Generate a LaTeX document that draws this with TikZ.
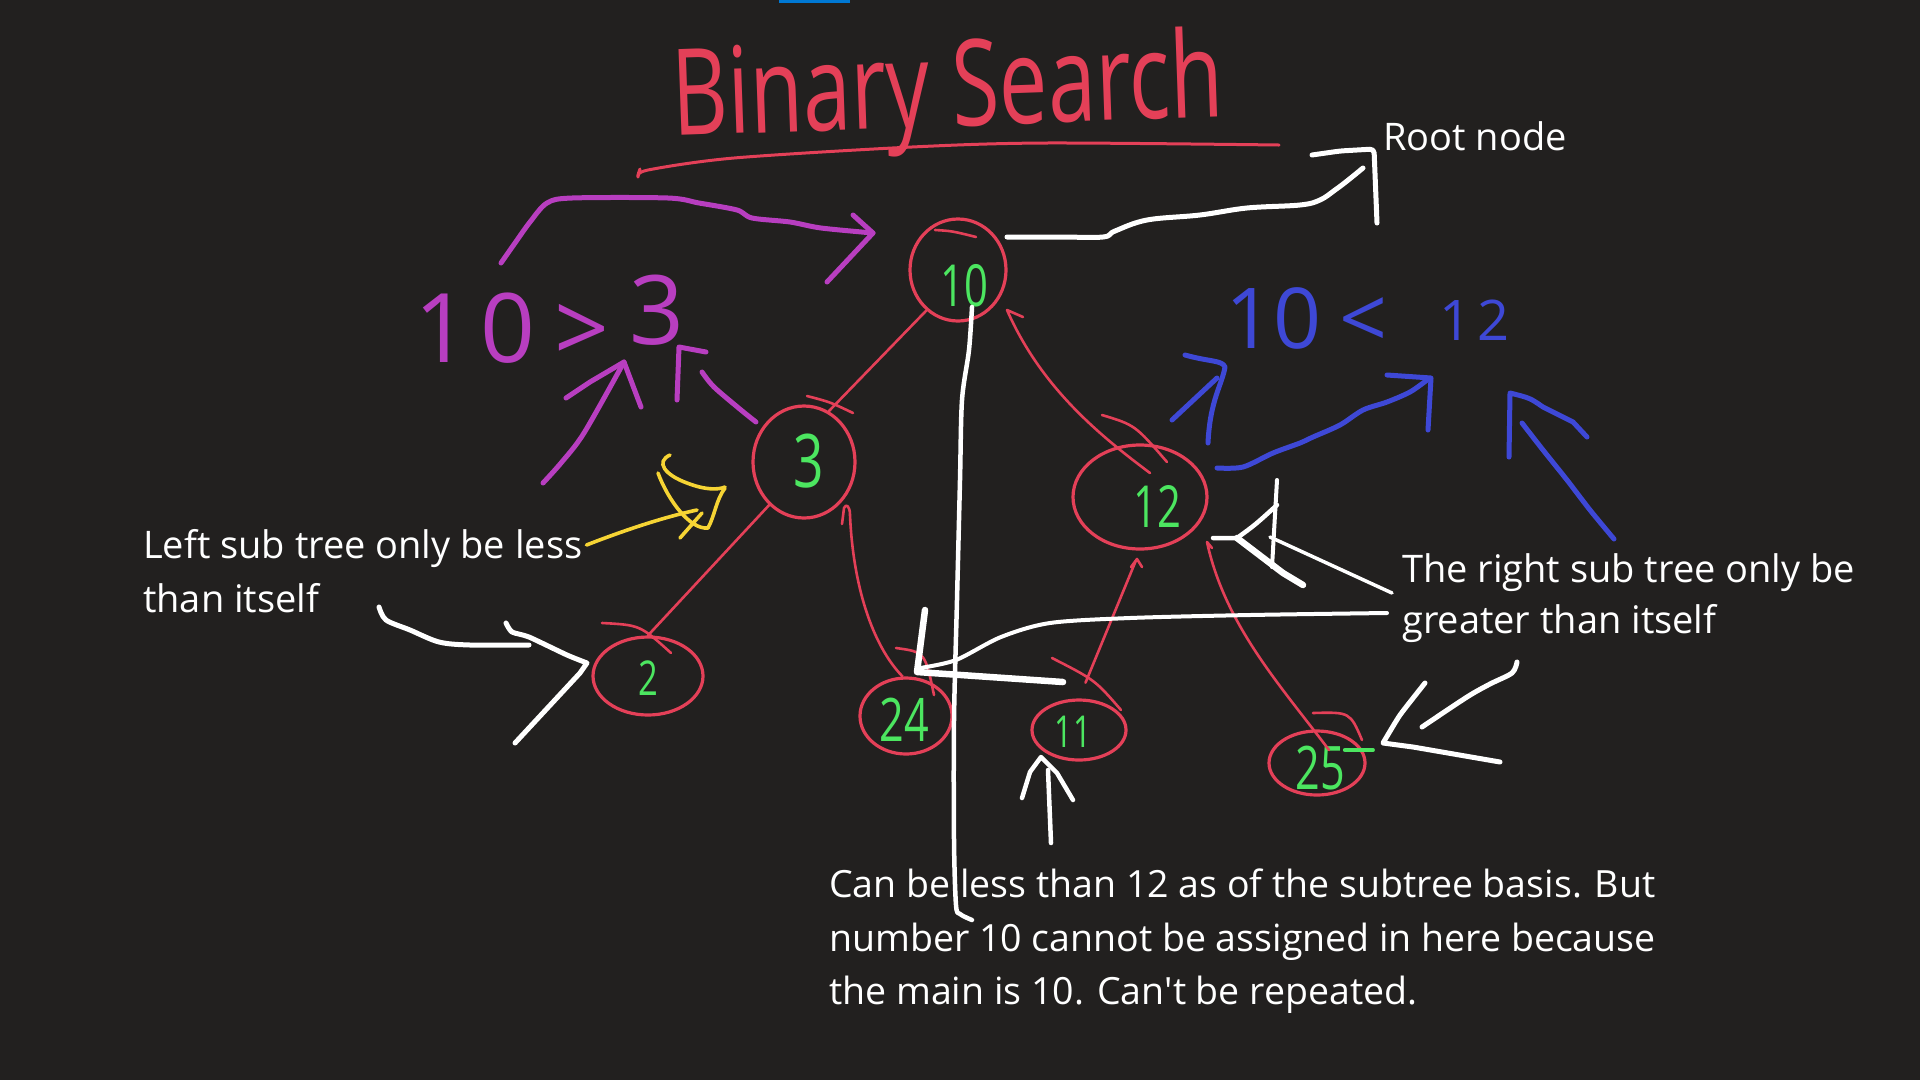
\documentclass[tikz,border=0pt]{standalone}
\usepackage{fontspec}
\setmainfont{Open Sans}
\usetikzlibrary{shapes.geometric}
\definecolor{bg}{RGB}{34,32,31}
\definecolor{topblue}{RGB}{0,120,212}
\definecolor{myred}{RGB}{228,64,88}
\definecolor{mygreen}{RGB}{76,230,96}
\definecolor{mypurple}{RGB}{184,62,192}
\definecolor{myblue}{RGB}{62,72,214}
\definecolor{myyellow}{RGB}{246,212,52}
\newcommand\handw[1]{\scalebox{0.72}[1]{#1}}
\begin{document}
\begin{tikzpicture}[x=1pt,y=-1pt,line cap=round,line join=round]
\tikzset{
 circ/.style={draw=myred, line width=3.2pt, ellipse, inner sep=0pt},
 redl/.style={draw=myred, line width=2.6pt},
 wl/.style={draw=white, line width=5pt},
 pl/.style={draw=mypurple, line width=5pt},
 bl/.style={draw=myblue, line width=5pt},
 yl/.style={draw=myyellow, line width=3.6pt},
 gtxt/.style={text=mygreen, inner sep=0pt},
 wtxt/.style={text=white, inner sep=0pt, font=\fontsize{38}{54}\selectfont, align=left},
}
\fill[bg] (0,0) rectangle (1920,1080);
\useasboundingbox (0,0) rectangle (1920,1080);
\fill[topblue] (779,0) rectangle (850,3);

% title
\node[text=myred, rotate=2, font=\fontsize{120}{120}\selectfont, inner sep=0pt] (title) at (948,95) {\handw{Binary Search}};
\draw[myred, line width=3pt] plot[smooth, tension=0.5] coordinates {(640,169)(638,177)(648,170)(734,158)(912,147)(1046,143)(1279,145)};

% tree nodes
\node[circ, minimum width=96pt, minimum height=102pt] (n10) at (958,270) {};
\node[circ, minimum width=102pt, minimum height=112pt] (n3) at (804,462) {};
\node[circ, minimum width=134pt, minimum height=104pt] (n12) at (1140,497) {};
\node[circ, minimum width=110pt, minimum height=78pt] (n2) at (648,676) {};
\node[circ, minimum width=92pt, minimum height=76pt] (n24) at (906,716) {};
\node[circ, minimum width=94pt, minimum height=60pt] (n11) at (1079,730) {};
\node[circ, minimum width=96pt, minimum height=64pt] (n25) at (1317,763) {};

\node[gtxt, font=\fontsize{58}{58}\selectfont] (t10) at (964,286) {\handw{10}};
\node[gtxt, font=\fontsize{74}{74}\selectfont] (t3) at (809,461) {\handw{3}};
\node[gtxt, font=\fontsize{58}{58}\selectfont] (t12) at (1157,506) {\handw{12}};
\node[gtxt, font=\fontsize{48}{48}\selectfont] (t2) at (648,678) {\handw{2}};
\node[gtxt, font=\fontsize{60}{60}\selectfont] (t24) at (904,720) {\handw{24}};
\node[gtxt, font=\fontsize{44}{44}\selectfont] (t11) at (1073,732) {\handw{11}};
\node[gtxt, font=\fontsize{60}{60}\selectfont] (t25) at (1320,768) {\handw{25}};
\draw[mygreen, line width=4pt] (t25.east) ++(0,-18) coordinate (g1) -- ++(28,0) coordinate (g2);

% extra hand strokes on circles
\draw[redl] (935,230) .. controls (952,231) .. (976,237);
\draw[redl] (807,396) .. controls (830,402) .. (853,413);
\draw[redl] (1102,415) .. controls (1135,425) .. (1167,462);
\draw[redl] (602,623) .. controls (640,625) .. (671,653);
\draw[redl] (896,648) .. controls (925,652) .. (934,695);
\draw[redl] (1052,658) .. controls (1095,680) .. (1121,710);
\draw[redl] (1313,713) .. controls (1350,712) .. (1362,740);

% red edges
\draw[redl] (n10.232) -- (n3.64);
\draw[redl] (1023,317) -- (1007,310) .. controls (1040,385) and (1095,432) .. (1150,473);
\draw[redl] (n3.231) -- (n2.north);
\draw[redl] (842,524) -- (844,508) .. controls (846,503) and (850,506) .. (850,515) .. controls (853,585) and (872,645) .. (n24.95);
\draw[redl, shorten <=11pt, shorten >=17pt] (n12.south) -- (n11.north);
\draw[redl] (1131,567) -- (1137,559) -- (1142,567);
\draw[redl] (1212,548) -- (1207,542) .. controls (1225,625) and (1280,685) .. (1329,750);

% white text
\node[wtxt, anchor=base west] (root) at (1383,150) {Root node};
\node[wtxt, anchor=north west] (lt) at (143,529) {Left sub tree only be less\\than itself};
\node[wtxt, anchor=north west, font=\fontsize{38}{51}\selectfont] (rt) at (1402,553) {The right sub tree only be\\greater than itself};
\node[wtxt, anchor=north west, font=\fontsize{37.5}{53.5}\selectfont] (bt) at (829,869) {Can be less than 12 as of the subtree basis. But\\number 10 cannot be assigned in here because\\the main is 10. Can\textquotesingle t be repeated.};

% white strokes
\draw[wl] plot[smooth, tension=0.6] coordinates {(1007,237)(1060,237)(1103,237)(1115,231)(1147,220)(1200,215)(1247,208)(1300,205)(1320,200)(1335,190)(1347,181)(1363,168)};
\draw[wl, rounded corners=4pt] (1312,155) -- (1340,151) -- (1374,149) -- (1377,223);
\draw[wl, line width=4.5pt] plot[smooth] coordinates {(972,307)(969,350)(962,400)(960,480)(957,600)(954,720)(954,840)(956,905)(960,914)(972,920)};
\draw[wl, line width=4pt] plot[smooth] coordinates {(1387,613)(1250,615)(1130,618)(1050,623)(1001,637)(956,660)(920,668)};
\draw[wl, line width=6.5pt] (925,610) -- (917,672) -- (1063,682);
\draw[wl, line width=3.5pt] (1392,593) -- (1270,537);
\draw[wl, line width=4pt] (1277,480) -- (1272,567);
\draw[wl, line width=4.5pt] (1213,538) -- (1237,538) .. controls (1255,525) .. (1277,505);
\draw[wl, line width=6.5pt] (1237,538) -- (1283,573) -- (1303,585);
\draw[wl] plot[smooth] coordinates {(1517,662)(1512,673)(1490,684)(1467,697)(1422,727)};
\draw[wl] plot[smooth, tension=0.3] coordinates {(1425,683)(1400,715)(1383,743)} -- (1413,747) -- (1500,762);
\draw[wl, line width=4.5pt] (1051,843) -- (1048,770);
\draw[wl, line width=4.5pt] (1022,798) -- (1030,772) -- (1041,757) -- (1057,773) -- (1073,800);
\draw[wl] plot[smooth] coordinates {(379,607)(386,620)(410,630)(439,642)(470,645)(529,645)};
\draw[wl] plot[smooth, tension=0.4] coordinates {(506,623)(512,632)(529,637)(567,655)(587,663)} -- (580,673) -- (515,743);

% purple
\node[text=mypurple, inner sep=0pt, font=\fontsize{96}{96}\selectfont, anchor=base west] (p103) at (414,362) {1\kern11pt0\kern20pt>\kern20pt\raisebox{18pt}{3}};
\draw[pl] plot[smooth] coordinates {(501,263)(515,243)(530,222)(547,203)(572,198)(668,198)(699,203)(737,210)(752,218)(790,222)(821,228)(873,233)};
\draw[pl] (853,215) -- (873,233) -- (827,282);
\draw[pl] plot[smooth] coordinates {(543,483)(561,463)(584,433)(624,362)};
\draw[pl] (566,398) -- (590,382) -- (624,362) -- (641,407);
\draw[pl] (677,400) -- (679,347) -- (706,352);
\draw[pl] plot[smooth] coordinates {(702,372)(714,387)(741,410)(756,422)};

% blue
\node[text=myblue, inner sep=0pt, anchor=base west, font=\fontsize{84}{84}\selectfont] (b1012) at (1225,348) {10\kern18pt<\kern52pt\raisebox{8pt}{\fontsize{56}{56}\selectfont 1\kern6pt2}};
\draw[bl] (1208,443) .. controls (1210,400) and (1222,385) .. (1225,367) .. controls (1222,360) and (1210,362) .. (1185,355);
\draw[bl] (1172,420) -- (1217,378);
\draw[bl] plot[smooth] coordinates {(1217,468)(1243,467)(1273,453)(1300,443)(1313,437)(1340,425)(1363,410)(1387,402)(1410,392)(1427,380)};
\draw[bl] (1387,375) -- (1431,378) -- (1428,430);
\draw[bl] (1509,457) -- (1510,393) .. controls (1530,398) .. (1543,407) -- (1573,422) -- (1587,437);
\draw[bl] plot[smooth] coordinates {(1522,423)(1543,450)(1567,480)(1590,510)(1614,539)};

% yellow
\draw[yl] (lt.north east) ++(4,16) coordinate (y0) .. controls (620,532) and (660,518) .. (697,510);
\draw[yl] (670,455) .. controls (655,462) and (665,475) .. (687,483) .. controls (705,490) and (718,490) .. (725,487);
\draw[yl] (658,473) .. controls (668,500) and (690,530) .. (708,528) .. controls (715,515) and (716,500) .. (725,488);
\draw[yl] (680,538) -- (702,513);
\end{tikzpicture}
\end{document}
